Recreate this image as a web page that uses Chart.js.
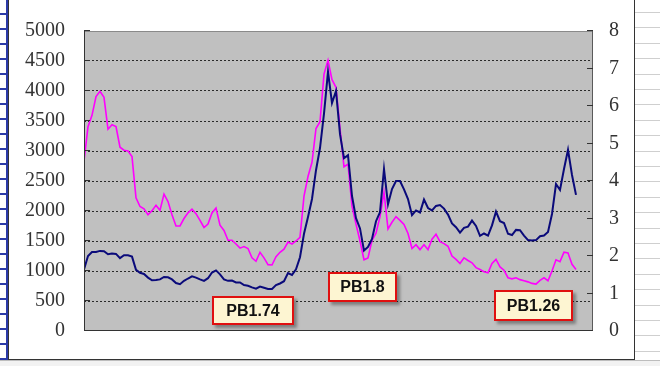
<!DOCTYPE html>
<html>
<head>
<meta charset="utf-8">
<script src="https://cdn.jsdelivr.net/npm/chart.js@4.4.0/dist/chart.umd.min.js"></script>
<style>
  body { margin: 0; background: #fff; }
  #wrap { position: relative; width: 660px; height: 366px; overflow: hidden; background: #fff; }
  .sheet-left {
    position: absolute; left: 0; top: 0; width: 6px; height: 366px;
    border-right: 2px solid #2b3aa8;
    background: repeating-linear-gradient(to bottom, #fff 0px, #fff 13px, #2b3aa8 13px, #2b3aa8 15px);
  }
  .sheet-right {
    position: absolute; left: 635px; top: 0; width: 25px; height: 366px;
    background: repeating-linear-gradient(to bottom, #fff 0px, #fff 12px, #cfcfcf 12px, #cfcfcf 13px, #fff 13px, #fff 15.4px);
  }
  .sheet-bottom {
    position: absolute; left: 0; top: 360px; width: 660px; height: 6px;
    background: #f2f2f2; border-top: 1px solid #bdbdbd;
  }
  .frame {
    position: absolute; left: 8px; top: -4px; width: 625px; height: 362px;
    border: 1px solid #333; background: #fff;
  }
  #chart { position: absolute; left: 0; top: 0; }
  .note {
    position: absolute; box-sizing: border-box;
    background: #fdf5d2; border: 2px solid #e01010;
    box-shadow: 3px 3px 3px rgba(0,0,0,0.35);
    font: bold 16px "Liberation Sans", Arial, sans-serif; color: #111;
    display: flex; align-items: center; justify-content: center;
  }
</style>
</head>
<body>
<div id="wrap">
  <div class="sheet-left"></div>
  <div class="sheet-right"></div>
  <div class="sheet-bottom"></div>
  <div class="frame"></div>
  <canvas id="chart" width="660" height="366"></canvas>
  <div class="note" style="left:212px;top:296px;width:82px;height:29px">PB1.74</div>
  <div class="note" style="left:328px;top:272px;width:69px;height:30px">PB1.8</div>
  <div class="note" style="left:494px;top:290px;width:79px;height:31px">PB1.26</div>
</div>
<script>
// index level (left axis), one reading per period
const indexLevel = [
  1027, 1250, 1317, 1317, 1335, 1330, 1280, 1290, 1285, 1215,
  1262, 1262, 1240, 1020, 970, 950, 890, 845, 850, 860,
  900, 895, 860, 800, 780, 836, 875, 910, 890, 860,
  836, 880, 975, 1010, 945, 860, 836, 840, 809, 809,
  765, 754, 727, 705, 740, 720, 699, 700, 765, 792,
  830, 965, 935, 1027, 1230, 1620, 1900, 2200, 2680, 3050,
  3623, 4320, 3800, 4000, 3280, 2880, 2930, 2250, 1880, 1710,
  1340, 1400, 1535, 1830, 1980, 2700, 2110, 2366, 2500, 2500,
  2360, 2200, 1930, 2010, 1975, 2190, 2050, 2010, 2085, 2100,
  2040, 1940, 1792, 1730, 1640, 1720, 1740, 1840, 1750, 1585,
  1625, 1590, 1760, 1990, 1830, 1800, 1620, 1600, 1685, 1680,
  1590, 1515, 1508, 1515, 1580, 1590, 1650, 1950, 2450, 2350,
  2700, 3020, 2600, 2268
];

// price-to-book ratio (right axis)
const pbRatio = [
  4.53, 5.45, 5.75, 6.25, 6.39, 6.23, 5.38, 5.50, 5.45, 4.90,
  4.82, 4.80, 4.65, 3.55, 3.32, 3.26, 3.10, 3.21, 3.35, 3.22,
  3.65, 3.45, 3.10, 2.80, 2.80, 3.00, 3.15, 3.25, 3.13, 2.95,
  2.76, 2.85, 3.15, 3.28, 2.82, 2.68, 2.42, 2.42, 2.32, 2.21,
  2.25, 2.20, 1.95, 1.86, 2.10, 1.95, 1.77, 1.76, 1.98, 2.10,
  2.18, 2.37, 2.32, 2.40, 2.50, 3.60, 4.12, 4.50, 5.40, 5.58,
  6.85, 7.22, 6.70, 6.50, 5.40, 4.38, 4.45, 3.33, 2.85, 2.40,
  1.90, 1.95, 2.42, 2.61, 3.05, 3.70, 2.72, 2.90, 3.05, 2.95,
  2.84, 2.60, 2.20, 2.30, 2.17, 2.30, 2.17, 2.45, 2.58, 2.38,
  2.33, 2.26, 2.00, 1.91, 1.80, 1.95, 1.88, 1.82, 1.69, 1.64,
  1.58, 1.55, 1.80, 1.91, 1.71, 1.62, 1.42, 1.39, 1.42, 1.37,
  1.34, 1.31, 1.27, 1.25, 1.35, 1.42, 1.34, 1.60, 1.90, 1.85,
  2.10, 2.08, 1.78, 1.64
];

const periods = indexLevel.map((_, i) => i);

// grey plot area, frame and inward tick marks like the Excel original
const plotFrame = {
  id: 'plotFrame',
  beforeDraw(chart) {
    const { ctx, chartArea: a } = chart;
    ctx.save();
    ctx.fillStyle = '#c0c0c0';
    ctx.fillRect(a.left, a.top, a.right - a.left, a.bottom - a.top);
    ctx.restore();
  },
  afterDraw(chart) {
    const { ctx, chartArea: a, scales } = chart;
    ctx.save();
    ctx.lineWidth = 1;
    ctx.strokeStyle = '#8a8a8a';
    ctx.beginPath();
    ctx.moveTo(a.left, a.top + 0.5); ctx.lineTo(a.right, a.top + 0.5);
    ctx.stroke();
    ctx.strokeStyle = '#5a5a5a';
    ctx.beginPath();
    ctx.moveTo(a.right - 0.5, a.top); ctx.lineTo(a.right - 0.5, a.bottom);
    ctx.stroke();
    ctx.strokeStyle = '#333';
    ctx.beginPath();
    ctx.moveTo(a.left + 0.5, a.top); ctx.lineTo(a.left + 0.5, a.bottom);
    ctx.moveTo(a.left, a.bottom - 0.5); ctx.lineTo(a.right, a.bottom - 0.5);
    ctx.stroke();
    ctx.beginPath();
    scales.y.ticks.forEach(t => {
      const y = Math.round(scales.y.getPixelForValue(t.value)) - 0.5;
      ctx.moveTo(a.left, y); ctx.lineTo(a.left + 6, y);
    });
    scales.y1.ticks.forEach(t => {
      const y = Math.round(scales.y1.getPixelForValue(t.value)) - 0.5;
      ctx.moveTo(a.right - 6, y); ctx.lineTo(a.right, y);
    });
    ctx.stroke();
    ctx.restore();
  }
};

const tickFont = { family: '"Liberation Serif", "Times New Roman", serif', size: 20 };

new Chart(document.getElementById('chart'), {
  type: 'line',
  data: {
    labels: periods,
    datasets: [
      {
        data: indexLevel,
        yAxisID: 'y',
        borderColor: '#0a0a7a',
        borderWidth: 2,
        pointRadius: 0,
        tension: 0
      },
      {
        data: pbRatio,
        yAxisID: 'y1',
        borderColor: '#ff00ff',
        borderWidth: 1.6,
        pointRadius: 0,
        tension: 0
      }
    ]
  },
  options: {
    responsive: false,
    animation: false,
    layout: { padding: { top: 26, bottom: 35, left: 0, right: 0 } },
    plugins: { legend: { display: false }, tooltip: { enabled: false } },
    scales: {
      x: {
        type: 'linear',
        display: false,
        min: 0,
        max: 127.25
      },
      y: {
        position: 'left',
        min: 0,
        max: 5000,
        ticks: { stepSize: 500, font: tickFont, color: '#333', padding: 19, callback: v => String(v) },
        grid: {
          drawTicks: false,
          lineWidth: 1,
          color: c => (c.tick && c.tick.value > 0 && c.tick.value < 5000) ? '#2a2a2a' : 'rgba(0,0,0,0)'
        },
        border: { display: false, dash: [2, 2] },
        afterFit: s => { s.width = 84; }
      },
      y1: {
        position: 'right',
        min: 0,
        max: 8,
        ticks: { stepSize: 1, font: tickFont, color: '#333', padding: 16, callback: v => String(v) },
        grid: { display: false, drawOnChartArea: false, drawTicks: false },
        border: { display: false },
        afterFit: s => { s.width = 67; }
      }
    }
  },
  plugins: [plotFrame]
});
</script>
</body>
</html>
